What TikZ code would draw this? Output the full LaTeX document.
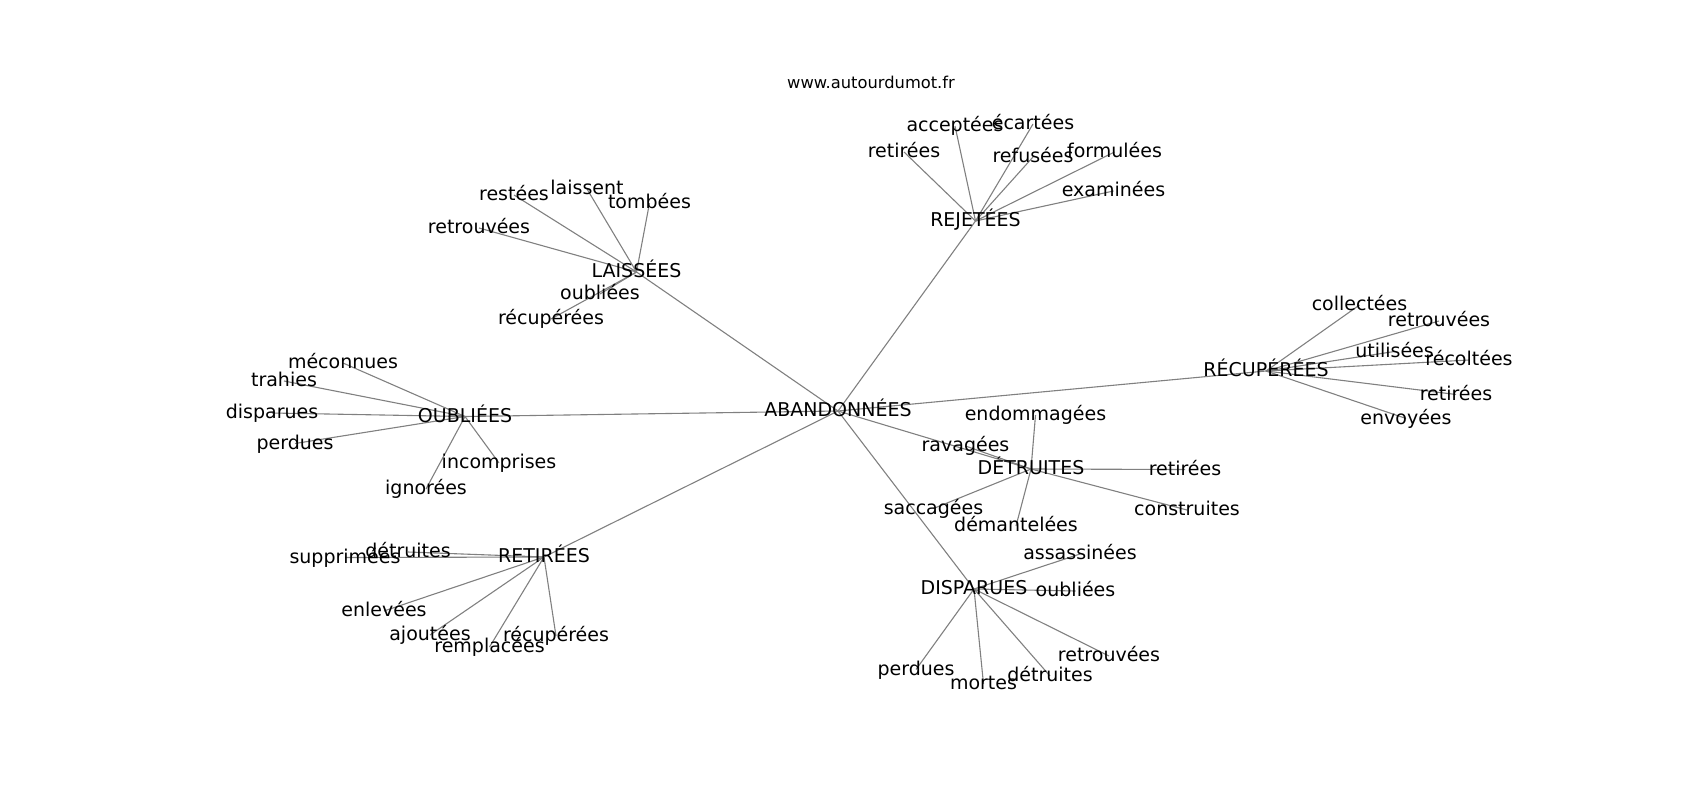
\documentclass[tikz,border=0pt]{standalone}
\usepackage{fontspec}
\setmainfont{DejaVu Sans}
\usetikzlibrary{backgrounds}
\begin{document}
\begin{tikzpicture}[x=1pt,y=-1pt,
  lbl/.style={inner sep=0pt,anchor=center,text height=1.4em,text depth=0.21em,font=\fontsize{19}{22}\selectfont},
  ttl/.style={inner sep=0pt,anchor=center,font=\fontsize{16.3}{19}\selectfont},
  edge/.style={draw=black!50,line width=1.1pt}]
\useasboundingbox (0,0) rectangle (1700,800);
\node[ttl] (title) at (871,82) {www.autourdumot.fr};
% hub
\node[lbl] (ab) at (838,411) {ABANDONNÉES};
% REJETEES
\node[lbl] (rej) at (975.5,221) {REJETÉES};
\node[lbl] (rej1) at (955,126) {acceptées};
\node[lbl] (rej2) at (1033,124) {écartées};
\node[lbl] (rej3) at (904,152) {retirées};
\node[lbl] (rej4) at (1033,157) {refusées};
\node[lbl] (rej5) at (1114.5,152) {formulées};
\node[lbl] (rej6) at (1113.5,191) {examinées};
% LAISSEES
\node[lbl] (lai) at (636.5,272) {LAISSÉES};
\node[lbl] (lai1) at (514,195) {restées};
\node[lbl] (lai2) at (587,189) {laissent};
\node[lbl] (lai3) at (649.5,203) {tombées};
\node[lbl] (lai4) at (479,228) {retrouvées};
\node[lbl] (lai5) at (600,294) {oubliées};
\node[lbl] (lai6) at (551,319) {récupérées};
% OUBLIEES
\node[lbl] (oub) at (465,416.5) {OUBLIÉES};
\node[lbl] (oub1) at (343,363) {méconnues};
\node[lbl] (oub2) at (284,381) {trahies};
\node[lbl] (oub3) at (272,413) {disparues};
\node[lbl] (oub4) at (295,443.5) {perdues};
\node[lbl] (oub5) at (499,463) {incomprises};
\node[lbl] (oub6) at (426,489) {ignorées};
% RETIREES
\node[lbl] (ret) at (544,557) {RETIRÉES};
\node[lbl] (ret1) at (345,557.5) {supprimées};
\node[lbl] (ret2) at (408,552) {détruites};
\node[lbl] (ret3) at (384,611) {enlevées};
\node[lbl] (ret4) at (430,635) {ajoutées};
\node[lbl] (ret5) at (489.5,647) {remplacées};
\node[lbl] (ret6) at (556,636) {récupérées};
% DETRUITES
\node[lbl] (det) at (1031,469) {DÉTRUITES};
\node[lbl] (det1) at (1035.5,415) {endommagées};
\node[lbl] (det2) at (965.5,446) {ravagées};
\node[lbl] (det3) at (1185,469.5) {retirées};
\node[lbl] (det4) at (1187,510) {construites};
\node[lbl] (det5) at (933.5,508.5) {saccagées};
\node[lbl] (det6) at (1016,526) {démantelées};
% DISPARUES
\node[lbl] (dis) at (974,589) {DISPARUES};
\node[lbl] (dis1) at (1080,554) {assassinées};
\node[lbl] (dis2) at (1075.5,591) {oubliées};
\node[lbl] (dis3) at (1109,656) {retrouvées};
\node[lbl] (dis4) at (1050,676) {détruites};
\node[lbl] (dis5) at (983.5,684) {mortes};
\node[lbl] (dis6) at (916,669.5) {perdues};
% RECUPEREES
\node[lbl] (rec) at (1266,371) {RÉCUPÉRÉES};
\node[lbl] (rec1) at (1359.5,305) {collectées};
\node[lbl] (rec2) at (1439,321) {retrouvées};
\node[lbl] (rec3) at (1394.5,351.5) {utilisées};
\node[lbl] (rec4) at (1469,360) {récoltées};
\node[lbl] (rec5) at (1456,394.5) {retirées};
\node[lbl] (rec6) at (1406,418.5) {envoyées};
% edges
\begin{scope}[on background layer]
\foreach \h in {rej,lai,oub,ret,det,dis,rec}{
  \path[edge] (ab.center) -- (\h.center);
  \foreach \i in {1,...,6}{
    \path[edge] (\h.center) -- (\h\i.center);
  }
}
\end{scope}
\end{tikzpicture}
\end{document}
